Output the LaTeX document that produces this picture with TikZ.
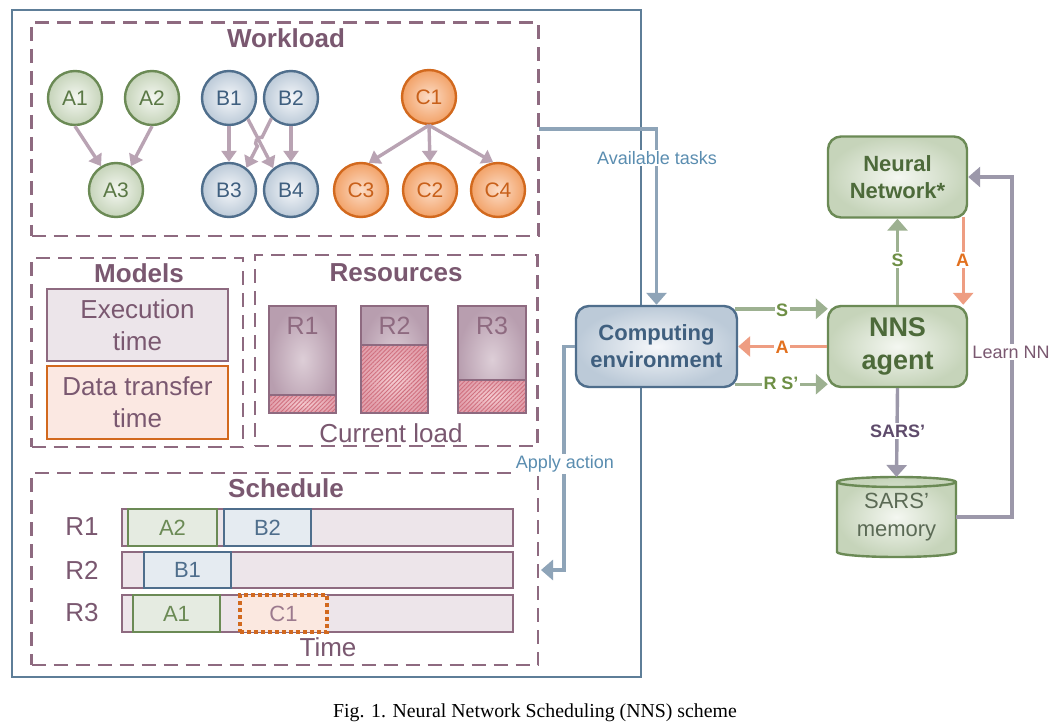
\documentclass[tikz,border=0pt]{standalone}
\usepackage{fontspec}
\setmainfont{Liberation Sans}
\newfontfamily\capfont{Liberation Serif}
\usetikzlibrary{arrows.meta,patterns.meta,calc}
\newcommand\myfs[2]{\fontsize{#1}{#2}\selectfont}
\definecolor{mauve}{HTML}{8E6A80}
\definecolor{mauvetext}{HTML}{7A5870}
\definecolor{outerblue}{HTML}{5E7E98}
\definecolor{arrmauve}{HTML}{B9A3B3}
\definecolor{gborder}{HTML}{6B8A55}
\definecolor{gtext}{HTML}{5A7845}
\definecolor{gdark}{HTML}{4D6A3A}
\definecolor{ginner}{HTML}{F4F7F1}
\definecolor{gouter}{HTML}{C6D4BA}
\definecolor{bborder}{HTML}{4F6E8C}
\definecolor{btext}{HTML}{3F5F7F}
\definecolor{binner}{HTML}{F5F7FA}
\definecolor{bouter}{HTML}{BCCAD8}
\definecolor{oborder}{HTML}{D2691E}
\definecolor{otext}{HTML}{C8601A}
\definecolor{oinner}{HTML}{FCDCC6}
\definecolor{oouter}{HTML}{F2A268}
\definecolor{conblue}{HTML}{8EA4B8}
\definecolor{labblue}{HTML}{5A8DB0}
\definecolor{cgreen}{HTML}{9DB191}
\definecolor{labgreen}{HTML}{6E8F45}
\definecolor{csalmon}{HTML}{EE9D82}
\definecolor{laborange}{HTML}{E2701E}
\definecolor{cgray}{HTML}{9C98AA}
\definecolor{labpurple}{HTML}{5E4B6B}
\definecolor{memtext}{HTML}{5B6A55}
\definecolor{rowfill}{HTML}{EDE5EA}
\definecolor{exefill}{HTML}{ECE5EA}
\definecolor{datafill}{HTML}{FBE8E2}
\definecolor{hatchin}{HTML}{F6CDD2}
\definecolor{hatchout}{HTML}{E2A0AC}
\definecolor{hatchline}{HTML}{D0707F}
\definecolor{resin}{HTML}{DDCED7}
\definecolor{resout}{HTML}{B89EAF}
\definecolor{ganttg}{HTML}{E5EBE1}
\definecolor{ganttb}{HTML}{E5EBF1}
\definecolor{ganttc}{HTML}{FBE8E0}
\definecolor{c1text}{HTML}{9C7A8E}
\begin{document}
\begin{tikzpicture}[x=1pt,y=-1pt,
  grp/.style={draw=mauve,line width=2.4pt,dash pattern=on 14pt off 8pt,inner sep=0pt,outer sep=0pt},
  grptitle/.style={font=\bfseries\myfs{26}{30},text=mauvetext},
  plain/.style={font=\myfs{26}{30},text=mauvetext},
  task/.style={circle,line width=2.4pt,minimum size=54pt,inner sep=0pt,font=\myfs{21}{24}},
  atask/.style={task,draw=gborder,inner color=ginner,outer color=gouter,text=gtext},
  btask/.style={task,draw=bborder,inner color=binner,outer color=bouter,text=btext},
  ctask/.style={task,draw=oborder,inner color=oinner,outer color=oouter,text=otext},
  dep/.style={draw=arrmauve,line width=3.4pt,-{Triangle[width=15pt,length=11pt]}},
  slot/.style={line width=2pt,minimum height=37pt,inner sep=0pt,outer sep=0pt,font=\myfs{22}{26}},
  row/.style={slot,draw=mauve,fill=rowfill,minimum width=391pt},
  conn/.style={line width=3.4pt,-{Triangle[width=20pt,length=12pt]}},
  lab/.style={fill=white,inner sep=1.5pt,font=\myfs{18}{21}},
  blab/.style={fill=white,inner sep=1.5pt,font=\bfseries\myfs{18}{21}},
  agentbox/.style={draw=gborder,line width=2.4pt,rounded corners=13pt,inner color=ginner,outer color=gouter,
    minimum width=139pt,minimum height=81pt,align=center,text=gdark,inner sep=0pt}
]
\useasboundingbox (0,0) rectangle (1062,727);
\fill[white] (0,0) rectangle (1062,727);

% system box
\node[draw=outerblue,line width=2.2pt,minimum width=629pt,minimum height=667pt,inner sep=0pt,outer sep=0pt] (sys) at (326.5,343.5) {};

% group boxes
\node[grp,minimum width=507pt,minimum height=213.5pt] (wl) at (285,129.25) {};
\node[grp,minimum width=211.5pt,minimum height=189pt] (models) at (137.25,352.5) {};
\node[grp,minimum width=282.5pt,minimum height=191pt] (res) at (396.25,350.5) {};
\node[grp,minimum width=506.5pt,minimum height=192pt] (sched) at (284.75,569) {};

\node[grptitle] (twl) at (286,38) {Workload};
\node[grptitle] (tmod) at (139,273) {Models};
\node[grptitle] (tres) at (396,273) {Resources};
\node[grptitle] (tsch) at (286,488) {Schedule};

% workload DAGs
\node[atask] (A1) at (75,98) {A1};
\node[atask] (A2) at (152,98) {A2};
\node[atask] (A3) at (116,190) {A3};
\node[btask] (B1) at (229,98) {B1};
\node[btask] (B2) at (291,98) {B2};
\node[btask] (B3) at (229,190) {B3};
\node[btask] (B4) at (291,190) {B4};
\node[ctask] (C1) at (429,97) {C1};
\node[ctask] (C3) at (361,190) {C3};
\node[ctask] (C2) at (430,190) {C2};
\node[ctask] (C4) at (498,190) {C4};

\draw[dep] (A1.south) -- (A3.122);
\draw[dep] (A2.south) -- (A3.58);
\draw[dep] (B1.south) -- (B3.north);
\draw[dep] (B2.south) -- (B4.north);
\draw[dep] (B1.-48) -- (B4.129);
\coordinate (hopa) at (262.0,137.4);
\coordinate (hopb) at (257.4,146.2);
\draw[dep] (B2.226) -- (hopa) .. controls (257.6,135.1) and (253.0,143.9) .. (hopb) -- (B3.52);
\draw[dep] (C1.south) -- (C3.74);
\draw[dep] (C1.south) -- (C2.north);
\draw[dep] (C1.south) -- (C4.100);

% models
\node[draw=mauve,line width=2pt,fill=exefill,minimum width=181pt,minimum height=72pt,inner sep=0pt,
  align=center,font=\myfs{26}{32},text=mauvetext] (exe) at (137.5,325) {Execution\\time};
\node[draw=oborder,line width=2pt,fill=datafill,minimum width=181pt,minimum height=73pt,inner sep=0pt,
  align=center,font=\myfs{26}{32},text=mauvetext] (dtt) at (137.5,402.5) {Data transfer\\time};

% resources
\foreach \xa/\xb/\hy in {269/336/395, 361/428/345, 458/526/380}{
  \path[inner color=resin,outer color=resout] (\xa,306) rectangle (\xb,413);
  \path[inner color=hatchin,outer color=hatchout] (\xa,\hy) rectangle (\xb,413);
  \path[pattern={Lines[angle=45,distance=3pt,line width=0.9pt]},pattern color=hatchline] (\xa,\hy) rectangle (\xb,413);
  \draw[mauve,line width=2.2pt] (\xa,306) rectangle (\xb,413);
  \draw[mauve,line width=2.2pt] (\xa,\hy) -- (\xb,\hy);
}
\node[font=\myfs{25}{30},text=mauve] (r1) at (302.5,326) {R1};
\node[font=\myfs{25}{30},text=mauve] (r2) at (394.5,326) {R2};
\node[font=\myfs{25}{30},text=mauve] (r3) at (492,326) {R3};
\node[plain] (load) at (391,433) {Current load};

% schedule
\node[plain] (sr1) at (82,527) {R1};
\node[plain] (sr2) at (82,570) {R2};
\node[plain] (sr3) at (82,613) {R3};
\node[row] (row1) at (317.5,527.5) {};
\node[row,minimum height=36pt] (row2) at (317.5,570) {};
\node[row] (row3) at (317.5,613.5) {};
\node[slot,draw=gborder,fill=ganttg,text=gborder,minimum width=89pt] (gA2) at (172.5,527.5) {A2};
\node[slot,draw=bborder,fill=ganttb,text=bborder,minimum width=87pt] (gB2) at (267.5,527.5) {B2};
\node[slot,draw=bborder,fill=ganttb,text=bborder,minimum width=87pt,minimum height=36pt] (gB1) at (187.5,570) {B1};
\node[slot,draw=gborder,fill=ganttg,text=gborder,minimum width=87pt] (gA1) at (176.5,613.5) {A1};
\node[slot,draw=oborder,line width=3.2pt,dash pattern=on 4pt off 3pt,fill=ganttc,text=c1text,minimum width=87pt] (gC1) at (283.5,613.5) {C1};
\node[plain] (time) at (328,647) {Time};

% right side nodes
\node[draw=bborder,line width=2.4pt,rounded corners=13pt,inner color=binner,outer color=bouter,
  minimum width=161pt,minimum height=81pt,align=center,text=btext,inner sep=0pt,
  font=\bfseries\myfs{22}{27}] (comp) at (656.5,346.5) {Computing\\environment};
\node[agentbox,font=\bfseries\myfs{27}{33}] (nns) at (897.5,346.5) {NNS\\agent};
\node[agentbox,font=\bfseries\myfs{22}{27}] (nn) at (897.5,177) {Neural\\Network*};

% memory cylinder
\path[draw=gborder,line width=2.4pt,inner color=ginner,outer color=gouter]
  (837,482) -- (837,552) arc[start angle=180,end angle=360,x radius=59.5pt,y radius=5pt]
  -- (956,482) arc[start angle=0,end angle=180,x radius=59.5pt,y radius=5pt] -- cycle;
\draw[gborder,line width=2.4pt] (837,482) arc[start angle=180,end angle=360,x radius=59.5pt,y radius=5pt];
\node[minimum width=119pt,minimum height=80pt,inner sep=0pt,outer sep=0pt,align=center,
  text=memtext,font=\myfs{22}{28}] (mem) at (896.5,517) {SARS'\\memory};

% connectors
\coordinate (wlout) at (wl.east |- 0,129);
\coordinate (schin) at (541,570);
\draw[conn,conblue] (wlout) -- (comp.north |- wlout) -- (comp.north);
\draw[conn,conblue] (comp.west) -- ++(-11,0) |- (schin);
\draw[conn,cgreen] ($(comp.north east)+(-3,4)$) -- ($(nns.north west)+(1,4)$);
\draw[conn,csalmon] (nns.west) -- (comp.east);
\draw[conn,cgreen] ($(comp.south east)+(-3,-4)$) -- ($(nns.south west)+(1,-4)$);
\draw[conn,cgreen] (nns.north) -- (nn.south);
\draw[conn,csalmon] ($(nn.south east)+(-5,-2)$) -- ($(nns.north east)+(-5,0)$);
\draw[conn,cgray] (nns.south) -- (mem.north);
\draw[conn,cgray] (mem.east) -- (1012,517) |- (nn.east);

% labels
\node[lab,text=labblue] (lavail) at (657,158) {Available tasks};
\node[lab,text=labblue] (lapply) at (565,464) {Apply action};
\node[blab,text=labgreen] (ls) at (782,310) {S};
\node[blab,text=laborange] (la) at (782,347) {A};
\node[blab,text=labgreen] (lrs) at (781,383) {R S'};
\node[blab,text=labgreen] (ls2) at (897.5,260) {S};
\node[blab,text=laborange] (la2) at (962.5,260) {A};
\node[blab,text=labpurple] (lsars) at (897.5,431) {SARS'};
\node[lab,text=mauvetext] (llearn) at (1011,352) {Learn NN};

% caption
\node[font=\capfont\myfs{19.8}{23}] (cap) at (535,713) {Fig. 1. Neural Network Scheduling (NNS) scheme};
\end{tikzpicture}
\end{document}
